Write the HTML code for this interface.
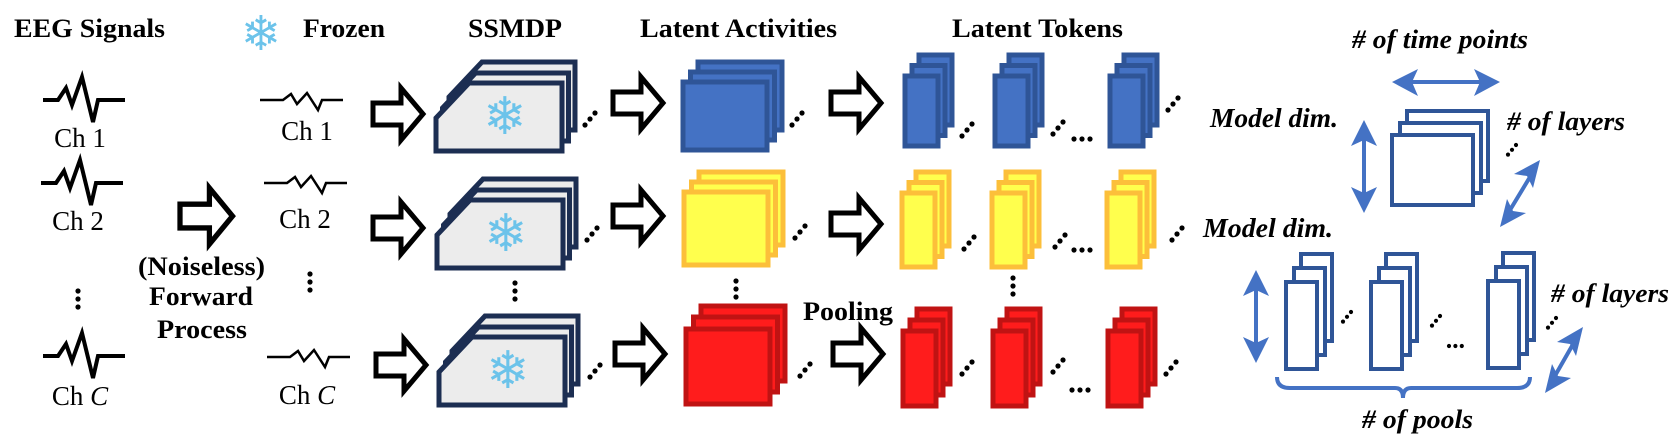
<!DOCTYPE html>
<html><head><meta charset="utf-8"><style>
html,body{margin:0;padding:0;background:#fff;width:1680px;height:446px;overflow:hidden}
svg{display:block}
.t{font-family:"Liberation Serif",serif;font-weight:bold;fill:#000}
.ti{font-family:"Liberation Serif",serif;font-weight:bold;font-style:italic;fill:#000}
.ch{font-family:"Liberation Serif",serif;fill:#000;font-size:27px}
.sf{font-family:"DejaVu Sans",sans-serif;fill:#6cc3ea}
</style></head><body>
<svg width="1680" height="446" viewBox="0 0 1680 446" xmlns="http://www.w3.org/2000/svg">
<defs>
  <polygon id="arr" points="0,15 28,15 28,0 50,26 28,52 28,37 0,37" fill="#fff" stroke="#000" stroke-width="5" stroke-linejoin="miter"/>
  <g id="dd"><circle cx="0" cy="12" r="2.6"/><circle cx="5" cy="6" r="2.6"/><circle cx="10" cy="0" r="2.6"/></g>
  <g id="vd"><circle cx="0" cy="0" r="2.6"/><circle cx="0" cy="8" r="2.6"/><circle cx="0" cy="16" r="2.6"/></g>
  <g id="hd"><circle cx="0" cy="0" r="2.6"/><circle cx="8" cy="0" r="2.6"/><circle cx="16" cy="0" r="2.6"/></g>
  <g id="ss">
    <polygon points="13,47 13,14 46,-21 139,-21 139,47" fill="#ececec" stroke="#1c2e52" stroke-width="5"/>
    <polygon points="6.5,58 6.5,25 39.5,-10 132.5,-10 132.5,58" fill="#ececec" stroke="#1c2e52" stroke-width="5"/>
    <polygon points="0,68 0,35 33,0 126,0 126,68" fill="#ececec" stroke="#1c2e52" stroke-width="5"/>
    <text x="69" y="51" class="sf" font-size="52" text-anchor="middle">❄</text>
  </g>
  <g id="wb" fill="none" stroke="#000" stroke-width="4" stroke-linejoin="miter"><polyline points="43,100 58,100 66,88 72,105 82,77 93,122 98,100 125,100"/></g>
  <g id="ws" fill="none" stroke="#000" stroke-width="2.5"><polyline points="260,100 283,100 291,94 297,104 307,93 318,110 322,100 343,100"/></g>
</defs>

<!-- titles -->
<text x="14" y="37" class="t" font-size="26" textLength="151" lengthAdjust="spacingAndGlyphs">EEG Signals</text>
<text x="261" y="50" class="sf" font-size="48" text-anchor="middle">❄</text>
<text x="303" y="37" class="t" font-size="26" textLength="82" lengthAdjust="spacingAndGlyphs">Frozen</text>
<text x="468" y="37" class="t" font-size="26" textLength="94" lengthAdjust="spacingAndGlyphs">SSMDP</text>
<text x="640" y="37" class="t" font-size="26" textLength="197" lengthAdjust="spacingAndGlyphs">Latent Activities</text>
<text x="952" y="37" class="t" font-size="26" textLength="171" lengthAdjust="spacingAndGlyphs">Latent Tokens</text>

<!-- left waves -->
<use href="#wb"/>
<text x="80" y="147" class="ch" text-anchor="middle">Ch 1</text>
<use href="#wb" transform="translate(-2,83)"/>
<text x="78" y="230" class="ch" text-anchor="middle">Ch 2</text>
<use href="#vd" transform="translate(78,291)"/>
<use href="#wb" transform="translate(0,256)"/>
<text x="80" y="405" class="ch" text-anchor="middle">Ch <tspan font-style="italic">C</tspan></text>

<use href="#arr" transform="translate(180,188) scale(1.05,1.08)"/>
<text x="138" y="275" class="t" font-size="26" textLength="127" lengthAdjust="spacingAndGlyphs">(Noiseless)</text>
<text x="149" y="305" class="t" font-size="26" textLength="104" lengthAdjust="spacingAndGlyphs">Forward</text>
<text x="157" y="338" class="t" font-size="26" textLength="90" lengthAdjust="spacingAndGlyphs">Process</text>

<use href="#ws"/>
<text x="307" y="140" class="ch" text-anchor="middle">Ch 1</text>
<use href="#ws" transform="translate(4,83)"/>
<text x="305" y="228" class="ch" text-anchor="middle">Ch 2</text>
<use href="#vd" transform="translate(310,274)"/>
<use href="#ws" transform="translate(7,257)"/>
<text x="307" y="404" class="ch" text-anchor="middle">Ch <tspan font-style="italic">C</tspan></text>

<!-- arrows to SSMDP -->
<use href="#arr" transform="translate(373,88)"/>
<use href="#arr" transform="translate(373,202)"/>
<use href="#arr" transform="translate(376,339)"/>

<!-- SSMDP stacks -->
<use href="#ss" transform="translate(436,83)"/>
<use href="#ss" transform="translate(437,200)"/>
<use href="#ss" transform="translate(439,337)"/>
<use href="#vd" transform="translate(515,283)"/>
<g fill="#000">
<use href="#dd" transform="translate(585,113)"/>
<use href="#dd" transform="translate(587,228)"/>
<use href="#dd" transform="translate(590,365)"/>
</g>

<!-- arrows to activities -->
<use href="#arr" transform="translate(613,77)"/>
<use href="#arr" transform="translate(613,190)"/>
<use href="#arr" transform="translate(615,328)"/>

<!-- activities -->
<g stroke-width="5">
<g fill="#4472c4" stroke="#2f5597">
<rect x="698" y="62" width="84" height="68"/><rect x="690.5" y="72" width="84" height="68"/><rect x="683" y="82" width="84" height="68"/>
</g>
<g fill="#ffff4d" stroke="#fcbf3a">
<rect x="699" y="172" width="84" height="73"/><rect x="691.5" y="182" width="84" height="73"/><rect x="684" y="192" width="84" height="73"/>
</g>
<g fill="#ff1c1c" stroke="#c01313">
<rect x="701" y="306" width="84" height="75"/><rect x="693.5" y="317" width="84" height="75"/><rect x="686" y="329" width="84" height="75"/>
</g>
</g>
<use href="#vd" transform="translate(736,281)"/>
<g fill="#000">
<use href="#dd" transform="translate(792,113)"/>
<use href="#dd" transform="translate(795,226)"/>
<use href="#dd" transform="translate(800,364)"/>
</g>
<text x="803" y="320" class="t" font-size="26" textLength="90" lengthAdjust="spacingAndGlyphs">Pooling</text>

<!-- arrows to tokens -->
<use href="#arr" transform="translate(831,77)"/>
<use href="#arr" transform="translate(831,198)"/>
<use href="#arr" transform="translate(833,328)"/>

<!-- tokens -->
<g stroke-width="5">
<g fill="#4472c4" stroke="#2f5597">
<rect x="919" y="55" width="33" height="70"/><rect x="912" y="65.5" width="33" height="70"/><rect x="905" y="76" width="33" height="70"/>
<rect x="1009" y="55" width="33" height="70"/><rect x="1002" y="65.5" width="33" height="70"/><rect x="995" y="76" width="33" height="70"/>
<rect x="1124" y="55" width="33" height="70"/><rect x="1117" y="65.5" width="33" height="70"/><rect x="1110" y="76" width="33" height="70"/>
</g>
<g fill="#ffff4d" stroke="#fcbf3a">
<rect x="916" y="172" width="33" height="74"/><rect x="909" y="182.5" width="33" height="74"/><rect x="902" y="193" width="33" height="74"/>
<rect x="1006" y="172" width="33" height="74"/><rect x="999" y="182.5" width="33" height="74"/><rect x="992" y="193" width="33" height="74"/>
<rect x="1121" y="172" width="33" height="74"/><rect x="1114" y="182.5" width="33" height="74"/><rect x="1107" y="193" width="33" height="74"/>
</g>
<g fill="#ff1c1c" stroke="#c01313">
<rect x="917" y="309" width="33" height="75"/><rect x="910" y="320" width="33" height="75"/><rect x="903" y="331" width="33" height="75"/>
<rect x="1007" y="309" width="33" height="75"/><rect x="1000" y="320" width="33" height="75"/><rect x="993" y="331" width="33" height="75"/>
<rect x="1122" y="309" width="33" height="75"/><rect x="1115" y="320" width="33" height="75"/><rect x="1108" y="331" width="33" height="75"/>
</g>
</g>
<use href="#vd" transform="translate(1013,278)"/>
<g fill="#000">
<use href="#dd" transform="translate(962,124)"/>
<use href="#dd" transform="translate(1053,122)"/>
<use href="#hd" transform="translate(1074,139)"/>
<use href="#dd" transform="translate(1168,98)"/>
<use href="#dd" transform="translate(964,237)"/>
<use href="#dd" transform="translate(1055,235)"/>
<use href="#hd" transform="translate(1074,250)"/>
<use href="#dd" transform="translate(1172,228)"/>
<use href="#dd" transform="translate(962,362)"/>
<use href="#dd" transform="translate(1053,360)"/>
<use href="#hd" transform="translate(1072,390)"/>
<use href="#dd" transform="translate(1166,362)"/>
</g>

<!-- right legend -->
<text x="1352" y="48" class="ti" font-size="26" textLength="176" lengthAdjust="spacingAndGlyphs"># of time points</text>
<text x="1210" y="127" class="ti" font-size="27" textLength="128" lengthAdjust="spacingAndGlyphs">Model dim.</text>
<text x="1507" y="130" class="ti" font-size="26" textLength="118" lengthAdjust="spacingAndGlyphs"># of layers</text>
<text x="1203" y="237" class="ti" font-size="27" textLength="130" lengthAdjust="spacingAndGlyphs">Model dim.</text>
<text x="1551" y="302" class="ti" font-size="26" textLength="118" lengthAdjust="spacingAndGlyphs"># of layers</text>
<text x="1362" y="428" class="ti" font-size="26" textLength="111" lengthAdjust="spacingAndGlyphs"># of pools</text>

<g fill="#4472c4" stroke="none">
  <rect x="1405" y="80" width="82" height="4"/>
  <polygon points="1392,82 1418,69 1412,82 1418,96"/>
  <polygon points="1500,82 1474,69 1480,82 1474,96"/>
  <rect x="1362" y="133" width="4" height="67"/>
  <polygon points="1364,120 1351,146 1364,140 1377,146"/>
  <polygon points="1364,213 1351,187 1364,193 1377,187"/>
  <rect x="1254" y="283" width="4" height="67"/>
  <polygon points="1256,270 1243,296 1256,290 1269,296"/>
  <polygon points="1256,363 1243,337 1256,343 1269,337"/>
</g>
<g stroke="#4472c4" stroke-width="4" fill="none">
  <line x1="1533" y1="172" x2="1507" y2="215"/>
  <line x1="1576" y1="339" x2="1552" y2="381"/>
  <path d="M1277,377 Q1277,388 1290,388 L1395,388 Q1403,388 1403,398 Q1403,388 1411,388 L1517,388 Q1530,388 1530,377"/>
</g>
<g fill="#4472c4">
  <polygon points="1540,160 1514,174 1527,176 1533,188"/>
  <polygon points="1500,227 1526,213 1513,211 1507,199"/>
  <polygon points="1583,327 1557,342 1570,344 1576,356"/>
  <polygon points="1545,393 1571,378 1558,376 1552,364"/>
</g>

<g fill="#fff" stroke="#2f5597" stroke-width="4">
  <rect x="1407" y="111" width="81" height="70"/><rect x="1400" y="123" width="81" height="70"/><rect x="1392" y="135" width="81" height="70"/>
  <rect x="1301" y="254" width="31" height="87"/><rect x="1294" y="268" width="31" height="87"/><rect x="1286" y="282" width="31" height="87"/>
  <rect x="1386" y="254" width="31" height="87"/><rect x="1379" y="268" width="31" height="87"/><rect x="1371" y="282" width="31" height="87"/>
  <rect x="1503" y="253" width="31" height="87"/><rect x="1496" y="267" width="31" height="87"/><rect x="1488" y="281" width="31" height="87"/>
</g>
<g fill="#000">
  <use href="#dd" transform="translate(1508,145) scale(0.8)"/>
  <use href="#dd" transform="translate(1343,312) scale(0.8)"/>
  <use href="#dd" transform="translate(1432,316) scale(0.8)"/>
  <use href="#hd" transform="translate(1449,346) scale(0.8)"/>
  <use href="#dd" transform="translate(1548,318) scale(0.8)"/>
</g>
</svg>
</body></html>
